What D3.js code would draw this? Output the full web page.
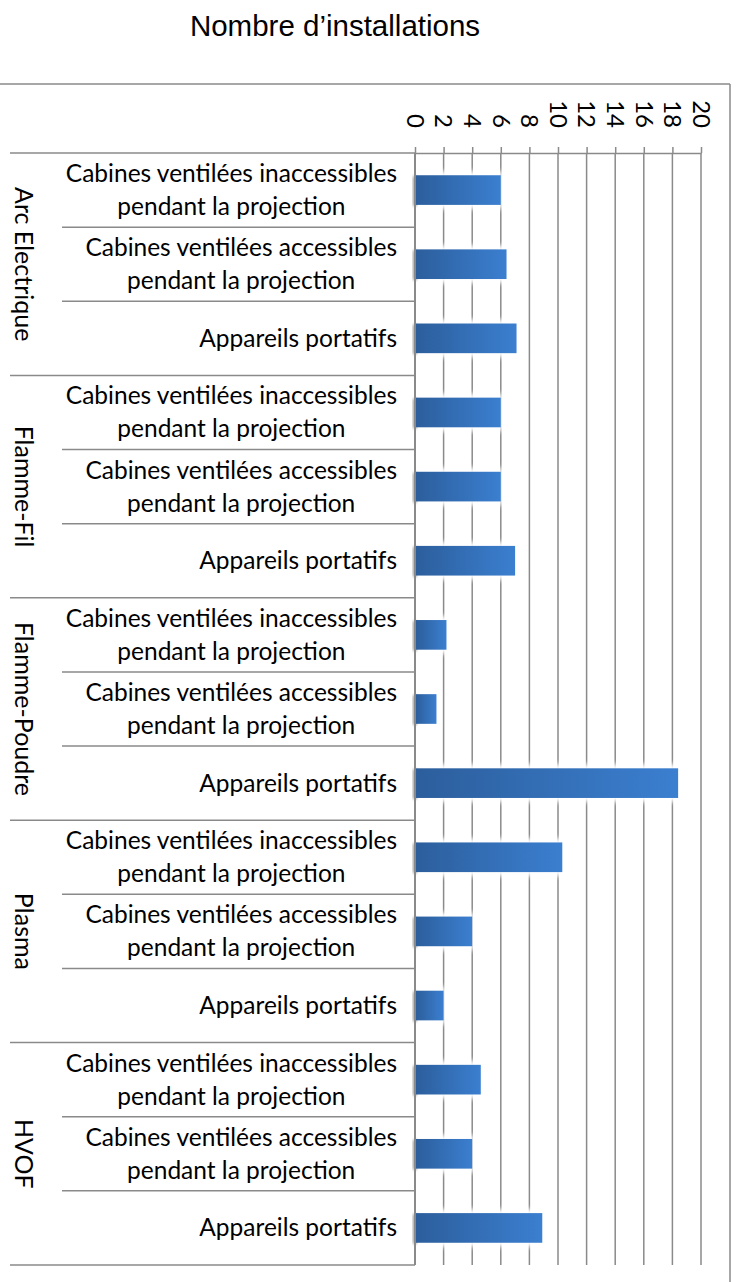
<!DOCTYPE html>
<html><head><meta charset="utf-8">
<script src="https://cdn.jsdelivr.net/npm/d3@7"></script>
<style>
html,body{margin:0;padding:0;background:#fff;}
svg{display:block;}
</style></head>
<body>
<script>
const title = "Nombre d’installations";
const groups = ["Arc Electrique", "Flamme-Fil", "Flamme-Poudre", "Plasma", "HVOF"];
const subcategories = [
  ["Cabines ventilées inaccessibles", "pendant la projection"],
  ["Cabines ventilées accessibles", "pendant la projection"],
  ["Appareils portatifs"]
];
const arcElectrique = [6.0, 6.4, 7.1];
const flammeFil = [6.0, 6.0, 7.0];
const flammePoudre = [2.2, 1.5, 18.4];
const plasma = [10.3, 4.0, 2.0];
const hvof = [4.6, 4.0, 8.9];
const tickValues = [0, 2, 4, 6, 8, 10, 12, 14, 16, 18, 20];

const seriesByGroup = [arcElectrique, flammeFil, flammePoudre, plasma, hvof];
const rows = [];
groups.forEach((g, gi) => {
  subcategories.forEach((s, si) => {
    rows.push({key: gi + "-" + si, group: g, gi, si, lines: s, value: seriesByGroup[gi][si]});
  });
});

const W = 738, H = 1282;
const plotLeft = 415, plotRight = 701, plotTop = 153, plotBottom = 1265;
const gridColor = "#8a8a8a";
const labelFont = "Lato, 'Open Sans', sans-serif";
const labelSize = 24.5;

const svg = d3.select("body").append("svg").attr("width", W).attr("height", H);

const defs = svg.append("defs");
const grad = defs.append("linearGradient").attr("id", "barGrad")
  .attr("x1", "0%").attr("x2", "100%").attr("y1", "0%").attr("y2", "0%");
grad.append("stop").attr("offset", "0%").attr("stop-color", "#2c5e9c");
grad.append("stop").attr("offset", "100%").attr("stop-color", "#3b7fd0");
const halo = defs.append("filter").attr("id", "halo").attr("x", "-20%").attr("y", "-60%").attr("width", "140%").attr("height", "220%");
halo.append("feGaussianBlur").attr("stdDeviation", 2.5);
const sh = defs.append("filter").attr("id", "shadow").attr("x", "-20%").attr("y", "-60%").attr("width", "140%").attr("height", "220%");
sh.append("feGaussianBlur").attr("stdDeviation", 1.5);

// frame
svg.append("line").attr("x1", 0).attr("x2", 730).attr("y1", 84).attr("y2", 84)
  .attr("stroke", gridColor).attr("stroke-width", 1.5);
svg.append("line").attr("x1", 730).attr("x2", 730).attr("y1", 84).attr("y2", H)
  .attr("stroke", gridColor).attr("stroke-width", 1.5);

// title
svg.append("text").attr("x", 335).attr("y", 36).attr("text-anchor", "middle")
  .attr("font-family", "'Liberation Sans', Arial, sans-serif").attr("font-size", 29.5)
  .attr("fill", "#000").text(title);

const x = d3.scaleLinear().domain([0, 20]).range([plotLeft, plotRight]);
const y = d3.scaleBand().domain(rows.map(r => r.key)).range([plotTop, plotBottom])
  .paddingInner(0.6).paddingOuter(0.3);
const step = y.step();

// gridlines
svg.append("g").selectAll("line").data(tickValues.slice(1)).join("line")
  .attr("x1", d => x(d)).attr("x2", d => x(d))
  .attr("y1", plotTop).attr("y2", plotBottom)
  .attr("stroke", gridColor).attr("stroke-width", 1.5);

// top axis
const axis = svg.append("g").attr("transform", `translate(0,${plotTop})`)
  .call(d3.axisTop(x).tickValues(tickValues).tickSize(6).tickSizeOuter(0));
axis.select(".domain").attr("stroke", gridColor).attr("stroke-width", 1.5);
axis.selectAll(".tick line").attr("stroke", gridColor).attr("stroke-width", 1.5);
axis.selectAll(".tick text")
  .attr("font-family", labelFont).attr("font-size", 24).attr("fill", "#000")
  .attr("text-anchor", "end")
  .attr("transform", "rotate(90)")
  .attr("x", -25).attr("y", 0).attr("dy", "0.36em");

// bars: halo + shadow + bar
const barG = svg.append("g");
barG.selectAll("rect.halo").data(rows).join("rect").attr("class", "halo")
  .attr("x", x(0)).attr("y", d => y(d.key) - 4)
  .attr("width", d => x(d.value) - x(0) + 2).attr("height", y.bandwidth() + 8)
  .attr("fill", "#fff").attr("filter", "url(#halo)");
barG.selectAll("rect.shadow").data(rows).join("rect").attr("class", "shadow")
  .attr("x", x(0) - 2).attr("y", d => y(d.key) + 1)
  .attr("width", 4).attr("height", y.bandwidth())
  .attr("fill", "#999").attr("filter", "url(#shadow)");
barG.selectAll("rect.bar").data(rows).join("rect").attr("class", "bar")
  .attr("x", x(0) + 1).attr("y", d => y(d.key))
  .attr("width", d => x(d.value) - x(0) - 1).attr("height", y.bandwidth())
  .attr("fill", "url(#barGrad)");

// category axis line
svg.append("line").attr("x1", plotLeft).attr("x2", plotLeft)
  .attr("y1", plotTop).attr("y2", plotBottom)
  .attr("stroke", gridColor).attr("stroke-width", 2);

// separators
const sepG = svg.append("g");
rows.forEach((r, i) => {
  const yy = plotTop + i * step;
  sepG.append("line").attr("x1", r.si === 0 ? 10 : 62).attr("x2", plotLeft)
    .attr("y1", yy).attr("y2", yy).attr("stroke", gridColor).attr("stroke-width", 1.5);
});
sepG.append("line").attr("x1", 10).attr("x2", plotLeft)
  .attr("y1", plotBottom).attr("y2", plotBottom).attr("stroke", gridColor).attr("stroke-width", 1.5);

// subcategory labels: block right-aligned at x=397, lines centred within block
const lineH = 33;
const labelRight = 397;
svg.append("g").selectAll("text").data(rows).join("text")
  .attr("font-family", labelFont).attr("font-size", labelSize).attr("fill", "#000")
  .attr("text-anchor", "middle")
  .attr("y", d => y(d.key) + y.bandwidth() / 2)
  .each(function(d) {
    const t = d3.select(this);
    const n = d.lines.length;
    const spans = d.lines.map((ln, k) => t.append("tspan")
      .attr("dy", k === 0 ? ((-(n - 1) / 2) * lineH + 8.5) : lineH)
      .text(ln));
    const widths = spans.map(s => s.node().getComputedTextLength());
    const blockW = d3.max(widths);
    spans.forEach(s => s.attr("x", labelRight - blockW / 2));
  });

// group labels
svg.append("g").selectAll("text").data(groups).join("text")
  .attr("font-family", labelFont).attr("font-size", 25).attr("fill", "#000")
  .attr("text-anchor", "middle")
  .attr("transform", (g, gi) => {
    const cy = plotTop + (gi * 3 + 1.5) * step;
    return `translate(24,${cy}) rotate(90)`;
  })
  .attr("dy", "0.36em")
  .text(d => d);
</script>
</body></html>
